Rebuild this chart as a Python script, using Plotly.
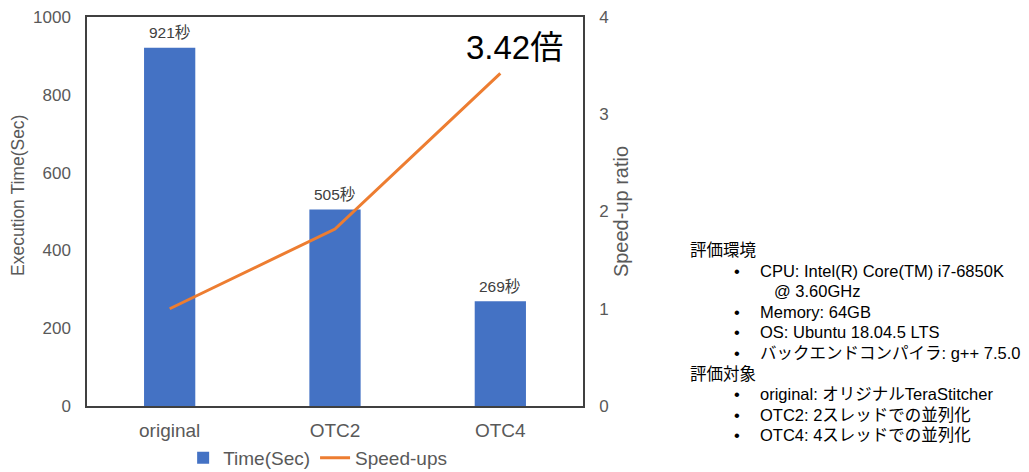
import plotly.graph_objects as go

categories = ["original", "OTC2", "OTC4"]
time_sec = [921, 505, 269]
speedups = [1.0, 1.82, 3.42]
time_labels = ["921秒", "505秒", "269秒"]
left_ticks = [0, 200, 400, 600, 800, 1000]
right_ticks = [0, 1, 2, 3, 4]
note_lines = [
    ("評価環境", 0),
    ("CPU: Intel(R) Core(TM) i7-6850K", 1),
    ("@ 3.60GHz", 2),
    ("Memory: 64GB", 1),
    ("OS: Ubuntu 18.04.5 LTS", 1),
    ("バックエンドコンパイラ: g++ 7.5.0", 1),
    ("評価対象", 0),
    ("original: オリジナルTeraStitcher", 1),
    ("OTC2: 2スレッドでの並列化", 1),
    ("OTC4: 4スレッドでの並列化", 1),
]

FONT = "Liberation Sans, Arial, Noto Sans CJK JP, sans-serif"
GRAY = "#595959"

W, H = 1029, 472
ML, MR, MT, MB = 87, 446, 17, 66
PW, PH = W - ML - MR, H - MT - MB

def px(x):
    return (x - ML) / PW

def py(y):
    return (H - MB - y) / PH

fig = go.Figure()
fig.add_trace(go.Bar(
    x=categories, y=time_sec, name="Time(Sec)",
    marker=dict(color="#4472C4", line=dict(width=0)), width=0.31,
))
fig.add_trace(go.Scatter(
    x=categories, y=speedups, name="Speed-ups", yaxis="y2",
    mode="lines", line=dict(color="#ED7D31", width=3),
))

annotations = []
for c, v, lab in zip(categories, time_sec, time_labels):
    annotations.append(dict(x=c, y=v, xref="x", yref="y", text=lab, showarrow=False,
                            yanchor="middle", yshift=15,
                            font=dict(size=15.5, color="#404040", family=FONT)))

annotations.append(dict(
    x=categories[2], y=speedups[2], xref="x", yref="y2",
    text=f"{speedups[2]:.2f}倍", showarrow=False,
    xshift=14, yshift=26, yanchor="middle",
    font=dict(size=33, color="#000000", family=FONT),
))

# left axis title
annotations.append(dict(x=px(18), y=py(196), xref="paper", yref="paper",
                        text="Execution Time(Sec)", showarrow=False, textangle=-90,
                        xanchor="center", yanchor="middle",
                        font=dict(size=17.5, color=GRAY, family=FONT)))

y0 = 250
step = 20.6
for i, (txt, lvl) in enumerate(note_lines):
    yy = y0 + i * step
    if lvl == 0:
        annotations.append(dict(x=px(688), y=py(yy), xref="paper", yref="paper",
                                text=txt, showarrow=False, xanchor="left", yanchor="middle",
                                font=dict(size=16.5, color="#000000", family=FONT)))
    else:
        if lvl == 1:
            annotations.append(dict(x=px(732), y=py(yy), xref="paper", yref="paper",
                                    text="•", showarrow=False, xanchor="left", yanchor="middle",
                                    font=dict(size=16.5, color="#000000", family=FONT)))
            xx = 758
        else:
            xx = 772
        annotations.append(dict(x=px(xx), y=py(yy), xref="paper", yref="paper",
                                text=txt, showarrow=False, xanchor="left", yanchor="middle",
                                font=dict(size=16.5, color="#000000", family=FONT)))

fig.update_layout(
    width=W, height=H,
    margin=dict(l=ML, r=MR, t=MT, b=MB, autoexpand=False),
    paper_bgcolor="white", plot_bgcolor="white",
    font=dict(family=FONT, color=GRAY),
    showlegend=True,
    legend=dict(orientation="h", x=0.465, xanchor="center",
                yref="container", y=(H - 458) / H, yanchor="middle",
                font=dict(size=19, color=GRAY, family=FONT), traceorder="normal",
                itemwidth=30),
    xaxis=dict(showline=True, mirror=True, linecolor="#404040", linewidth=1.5,
               showgrid=False, ticks="", automargin=False, ticklabelstandoff=6,
               tickfont=dict(size=19, color=GRAY)),
    yaxis=dict(range=[0, 1000], tickvals=left_ticks, showgrid=False, zeroline=False,
               showline=True, linecolor="#404040", linewidth=1.5, ticks="", automargin=False,
               ticklabelstandoff=11,
               tickfont=dict(size=17, color=GRAY)),
    yaxis2=dict(range=[0, 4], tickvals=right_ticks, overlaying="y", side="right",
                showgrid=False, zeroline=False, showline=True, linecolor="#404040", linewidth=1.5,
                ticks="", automargin=False, ticklabelstandoff=11,
                tickfont=dict(size=17, color=GRAY),
                title=dict(text="Speed-up ratio", font=dict(size=20, color=GRAY), standoff=6)),
    annotations=annotations,
)

fig.write_html("out.html")
